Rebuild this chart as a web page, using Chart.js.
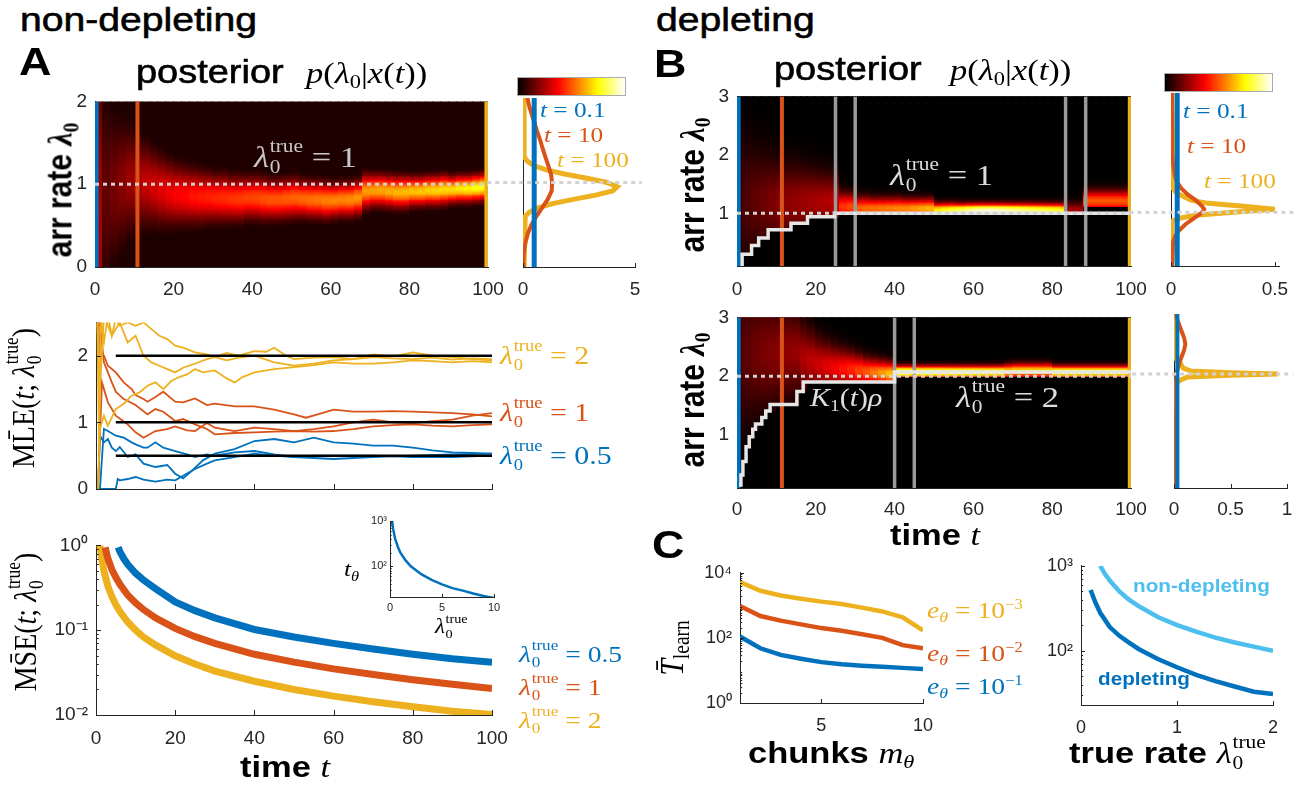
<!DOCTYPE html>
<html>
<head>
<meta charset="utf-8">
<script src="https://cdn.jsdelivr.net/npm/chart.js@4.4.1/dist/chart.umd.min.js"></script>
<style>
  body { margin: 0; background: #fff; }
  #fig { position: relative; width: 1299px; height: 786px; overflow: hidden; background: #fff; }
  #fig canvas { position: absolute; }
  .t { position: absolute; white-space: nowrap; line-height: 1; transform-origin: 0 0; transform: scaleX(1.15); font-family: "Liberation Sans", Arial, sans-serif; color: #000; }
  .v { position: absolute; white-space: nowrap; line-height: 1; transform: translate(-50%, -50%) rotate(-90deg) scaleY(1.15); font-family: "Liberation Sans", Arial, sans-serif; color: #000; }
  .s { font-family: "Liberation Serif", "Times New Roman", serif; }
  .b { font-weight: bold; }
  .k { -webkit-text-stroke: 0.6px #000; }
  .ss { display: inline-flex; flex-direction: column; font-size: .62em; line-height: 1.15; position: relative; top: -.78em; margin-left: .04em; font-style: normal; }
  .sb { font-size: .65em; position: relative; top: .3em; font-style: normal; }
  .cb { position: absolute; height: 19px; border: 1px solid #aaa; box-sizing: border-box; background: linear-gradient(90deg, #000 0%, #f00 37.5%, #ff0 75%, #fff 100%); }
</style>
</head>
<body>
<div id="fig"></div>
<script>
const fig = document.getElementById( "fig" );
const SANS = '"Liberation Sans", Arial, sans-serif';
const INK = "#262626";
const BLUE = "#0072BD", ORANGE = "#D95319", YELLOW = "#EDB120", LBLUE = "#4DBEEE";

// ---- A: posterior heatmap columns (t = 0, 2, ..., 98) ----
const colTime = [ 0, 2, 4, 6, 8, 10, 12, 14, 16, 18, 20, 22, 24, 26, 28, 30, 32, 34, 36, 38, 40, 42, 44, 46, 48,
  50, 52, 54, 56, 58, 60, 62, 64, 66, 68, 70, 72, 74, 76, 78, 80, 82, 84, 86, 88, 90, 92, 94, 96, 98 ];
const aCenter = [ 0.5, 0.9, 0.95, 1.0, 1.05, 1.02, 1.0, 0.97, 0.93, 0.9, 0.88, 0.87, 0.86, 0.85, 0.85, 0.84, 0.84, 0.83, 0.83, 0.84,
  0.84, 0.83, 0.82, 0.82, 0.83, 0.84, 0.83, 0.82, 0.82, 0.81, 0.81, 0.82, 0.82, 0.84, 0.92, 0.93, 0.93, 0.92, 0.91, 0.91,
  0.92, 0.92, 0.93, 0.93, 0.94, 0.94, 0.95, 0.95, 0.96, 0.97 ];
const aSd = [ 1.5, 0.8, 0.6, 0.5, 0.42, 0.36, 0.32, 0.29, 0.27, 0.25, 0.23, 0.22, 0.21, 0.2, 0.19, 0.18, 0.18, 0.17, 0.17, 0.16,
  0.16, 0.16, 0.15, 0.15, 0.15, 0.15, 0.14, 0.14, 0.14, 0.14, 0.13, 0.13, 0.13, 0.13, 0.13, 0.12, 0.12, 0.12, 0.12, 0.12,
  0.11, 0.11, 0.11, 0.11, 0.11, 0.1, 0.1, 0.1, 0.1, 0.1 ];
const aPeak = [ 0.25, 0.14, 0.17, 0.2, 0.23, 0.26, 0.29, 0.31, 0.33, 0.35, 0.37, 0.38, 0.4, 0.41, 0.42, 0.43, 0.44, 0.45, 0.46, 0.47,
  0.48, 0.49, 0.5, 0.5, 0.51, 0.52, 0.53, 0.54, 0.55, 0.56, 0.57, 0.57, 0.58, 0.59, 0.6, 0.61, 0.62, 0.63, 0.64, 0.65,
  0.66, 0.67, 0.68, 0.69, 0.7, 0.7, 0.72, 0.74, 0.76, 0.78 ];
const aSnapT = [ 0.3, 10.8, 99.6 ];

// A side: posterior snapshots
const aSideLamB = [ 0, 2 ], aSideB = [ 0.5, 0.5 ];
const aSideLamO = [ 0, 0.1, 0.2, 0.3, 0.4, 0.5, 0.6, 0.7, 0.8, 0.9, 1.0, 1.1, 1.2, 1.3, 1.4, 1.5, 1.6, 1.7, 1.8, 1.9, 2.0 ];
const aSideO = [ 0.02, 0.02, 0.05, 0.12, 0.22, 0.38, 0.6, 0.85, 1.1, 1.28, 1.3, 1.25, 1.13, 1.0, 0.88, 0.77, 0.64, 0.52, 0.4, 0.28, 0.2 ];
const aSideLamY = [ 0, 0.6, 0.65, 0.7, 0.75, 0.8, 0.85, 0.9, 0.95, 1.0, 1.05, 1.1, 1.15, 1.2, 1.25, 1.3, 1.35, 2.0 ];
const aSideY = [ 0.05, 0.1, 0.29, 0.67, 1.32, 2.24, 3.24, 4.0, 4.2, 3.75, 2.85, 1.85, 1.03, 0.48, 0.2, 0.07, 0.05, 0.05 ];

// ---- A: MLE trajectories ----
const mleY1t = [ 0.3, 0.8, 1.2, 2, 3, 4, 5, 6, 8, 10, 12, 14, 16, 18, 20, 22, 25, 28, 30, 33, 36, 40, 43, 45, 48, 50, 55, 60, 65, 70, 75, 80, 85, 90, 95, 100 ];
const mleY1 = [ 2.6, 0.6, 2.6, 2.2, 2.6, 2.3, 2.55, 2.45, 2.5, 2.45, 2.5, 2.4, 2.3, 2.25, 2.15, 2.12, 2.05, 2.02, 1.98, 2.04, 2.0, 2.07, 2.06, 2.12, 2.0, 1.95, 1.97, 1.98, 1.95, 2.02, 1.99, 2.05, 2.0, 1.98, 1.95, 1.93 ];
const mleY2t = [ 0.5, 1, 2, 3, 5, 7, 9, 11, 13, 15, 17, 19, 21, 23, 25, 27, 30, 33, 35, 37, 40, 45, 50, 55, 60, 65, 70, 75, 80, 85, 90, 95, 100 ];
const mleY2 = [ 0, 0.9, 1.1, 0.95, 1.2, 1.28, 1.4, 1.45, 1.55, 1.6, 1.5, 1.62, 1.68, 1.72, 1.8, 1.75, 1.78, 1.66, 1.6, 1.68, 1.75, 1.8, 1.83, 1.86, 1.9, 1.88, 1.88, 1.9, 1.93, 1.92, 1.9, 1.92, 1.9 ];
const mleY3t = [ 0.3, 1, 2, 4, 6, 8, 10, 12, 14, 16, 18, 20, 22, 25, 28, 30, 33, 36, 40, 45, 50, 55, 60, 65, 70, 75, 80, 85, 90, 95, 100 ];
const mleY3 = [ 2.6, 1.5, 2.6, 2.3, 2.5, 2.2, 2.3, 2.0, 1.9, 1.85, 1.8, 1.75, 1.82, 1.88, 1.95, 1.98, 1.93, 1.97, 2.0, 1.9, 1.85, 1.88, 1.93, 1.95, 1.98, 1.96, 1.95, 1.97, 1.94, 1.96, 1.95 ];
const mleO1t = [ 0.5, 1, 2, 3, 5, 7, 9, 10, 12, 13, 15, 17, 19, 20, 22, 25, 28, 30, 35, 40, 45, 50, 53, 56, 60, 65, 70, 75, 80, 85, 90, 95, 100 ];
const mleO1 = [ 2.6, 2.0, 2.0, 1.85, 1.75, 1.6, 1.5, 1.41, 1.35, 1.31, 1.38, 1.46, 1.36, 1.31, 1.3, 1.36, 1.26, 1.28, 1.24, 1.24, 1.19, 1.12, 1.07, 1.12, 1.19, 1.16, 1.16, 1.17, 1.16, 1.15, 1.14, 1.12, 1.09 ];
const mleO2t = [ 0.5, 1.5, 3, 5, 8, 10, 12, 15, 18, 20, 23, 25, 28, 30, 35, 40, 45, 50, 55, 60, 65, 70, 75, 80, 85, 90, 95, 100 ];
const mleO2 = [ 0, 1.6, 1.3, 1.1, 0.97, 0.85, 0.77, 0.87, 0.9, 0.94, 0.88, 0.87, 0.99, 0.92, 0.87, 0.92, 0.9, 0.87, 0.9, 0.94, 1.0, 1.04, 1.0, 0.99, 1.02, 1.04, 1.1, 1.14 ];
const mleO3t = [ 0.8, 2, 4, 5, 7, 10, 13, 15, 17, 20, 22, 25, 28, 30, 35, 40, 45, 50, 55, 60, 65, 70, 75, 80, 85, 90, 95, 100 ];
const mleO3 = [ 2.6, 1.9, 1.6, 1.46, 1.35, 1.26, 1.12, 1.2, 1.16, 1.02, 1.05, 0.97, 0.9, 0.82, 0.84, 0.85, 0.86, 0.87, 0.86, 0.87, 0.9, 0.94, 0.96, 0.97, 0.95, 0.94, 0.96, 0.97 ];
const mleB1t = [ 0.5, 1, 2, 3, 4, 5, 6, 8, 10, 12, 15, 18, 20, 22, 24, 27, 30, 35, 40, 45, 50, 55, 60, 65, 70, 75, 80, 85, 90, 95, 100 ];
const mleB1 = [ 0, 0.8, 0.7, 0.75, 0.62, 0.57, 0.63, 0.48, 0.52, 0.38, 0.33, 0.36, 0.23, 0.16, 0.26, 0.43, 0.53, 0.6, 0.72, 0.75, 0.7, 0.77, 0.7, 0.68, 0.65, 0.65, 0.62, 0.58, 0.55, 0.54, 0.53 ];
const mleB2t = [ 1, 2, 3, 5, 7, 9, 10, 12, 13, 15, 17, 20, 23, 25, 28, 30, 35, 40, 45, 50, 55, 60, 70, 80, 90, 100 ];
const mleB2 = [ 0, 0.9, 0.87, 0.8, 0.77, 0.7, 0.67, 0.62, 0.62, 0.7, 0.62, 0.57, 0.52, 0.48, 0.52, 0.5, 0.55, 0.57, 0.52, 0.48, 0.5, 0.5, 0.5, 0.48, 0.48, 0.5 ];
const mleB3t = [ 0.5, 5, 5.5, 6, 8, 10, 12, 15, 18, 20, 22, 25, 28, 30, 35, 40, 45, 50, 60, 70, 80, 90, 100 ];
const mleB3 = [ 0, 0, 0.15, 0.13, 0.15, 0.18, 0.14, 0.11, 0.14, 0.13, 0.2, 0.3, 0.38, 0.43, 0.48, 0.53, 0.5, 0.48, 0.45, 0.48, 0.5, 0.52, 0.53 ];
const trueRates = [ 0.5, 1, 2 ];

// ---- A: MSE ----
const mseYt = [ 1, 1.5, 2, 3, 4, 5, 6, 8, 10, 12, 15, 20, 25, 30, 40, 50, 60, 70, 80, 90, 100 ];
const mseY = [ 1.0, 0.67, 0.5, 0.33, 0.25, 0.2, 0.167, 0.125, 0.1, 0.083, 0.067, 0.05, 0.04, 0.033, 0.025, 0.02, 0.0167, 0.0143, 0.0125, 0.0111, 0.0101 ];
const mseOt = [ 2.3, 3, 4, 5, 6, 8, 10, 12, 15, 20, 25, 30, 40, 50, 60, 70, 80, 90, 100 ];
const mseO = [ 0.95, 0.7, 0.52, 0.42, 0.35, 0.26, 0.21, 0.175, 0.14, 0.105, 0.084, 0.07, 0.052, 0.042, 0.035, 0.03, 0.026, 0.023, 0.0205 ];
const mseBt = [ 5.6, 6, 7, 8, 10, 12, 15, 20, 25, 30, 40, 50, 60, 70, 80, 90, 100 ];
const mseB = [ 0.95, 0.85, 0.7, 0.6, 0.47, 0.39, 0.31, 0.215, 0.17, 0.14, 0.102, 0.083, 0.07, 0.06, 0.052, 0.046, 0.042 ];
const insetLam = [ 0.2, 0.3, 0.5, 0.75, 1, 1.5, 2, 3, 4, 5, 6, 7, 8, 9, 10 ];
const insetT = [ 1000, 670, 400, 270, 200, 135, 100, 67, 50, 40, 33, 29, 25, 22, 20 ];

// ---- B: depleting, lambda = 1 ----
const bLow = [ 0.1, 0.3, 0.45, 0.58, 0.72, 0.72, 0.72, 0.83, 0.83, 0.94, 0.94, 0.94, 0.94,
  1, 1, 1, 1, 1, 1, 1, 1, 1, 1, 1, 1, 1, 1, 1, 1, 1, 1, 1, 1, 1, 1, 1, 1, 1, 1, 1, 1, 1, 1, 1,
  1.12, 1.12, 1.12, 1.12, 1.12, 1.12 ];
const bCenter = [ 1.2, 1.2, 1.2, 1.2, 1.2, 1.2, 1.2, 1.2, 1.2, 1.2, 1.2, 1.2, 1.2, 1.12, 1.12,
  1.09, 1.09, 1.09, 1.09, 1.09, 1.09, 1.09, 1.09, 1.09, 1.09,
  1.06, 1.06, 1.06, 1.06, 1.06, 1.06, 1.06, 1.06, 1.06, 1.06, 1.06, 1.06, 1.06, 1.06, 1.06, 1.06, 1.06,
  1.05, 1.05, 1.22, 1.22, 1.22, 1.22, 1.22, 1.22 ];
const bSd = [ 0.8, 0.7, 0.6, 0.55, 0.5, 0.45, 0.42, 0.4, 0.38, 0.36, 0.34, 0.32, 0.3, 0.16, 0.15,
  0.13, 0.13, 0.12, 0.12, 0.12, 0.12, 0.11, 0.11, 0.11, 0.11,
  0.08, 0.08, 0.08, 0.075, 0.075, 0.075, 0.075, 0.075, 0.075, 0.075, 0.075, 0.075, 0.075, 0.075, 0.075, 0.075, 0.075,
  0.1, 0.1, 0.12, 0.12, 0.12, 0.12, 0.12, 0.12 ];
const bPeak = [ 0.1, 0.12, 0.14, 0.16, 0.18, 0.2, 0.21, 0.22, 0.23, 0.24, 0.25, 0.26, 0.28, 0.45, 0.48,
  0.52, 0.53, 0.54, 0.55, 0.56, 0.57, 0.58, 0.6, 0.62, 0.64,
  0.74, 0.78, 0.82, 0.86, 0.9, 0.94, 0.96, 0.96, 0.94, 0.92, 0.9, 0.88, 0.86, 0.84, 0.82, 0.8, 0.78,
  0.25, 0.25, 0.5, 0.5, 0.5, 0.5, 0.5, 0.5 ];
const bStepT = [ 1.3, 1.3, 3.7, 5.5, 7.9, 13.7, 17.9, 24.7, 100 ];
const bStep = [ 0.1, 0.3, 0.45, 0.58, 0.72, 0.83, 0.94, 1.0, 1.0 ];
const bSnapT = [ 0.3, 11.4, 99.7 ];
const bGrayT = [ 25, 30, 83.4, 88.5 ];
const bSideLamB = [ 0.1, 3 ], bSideB = [ 0.03, 0.03 ];
const bSideLamO = [ 0.1, 0.5, 0.6, 0.7, 0.8, 0.9, 1.0, 1.05, 1.1, 1.2, 1.3, 1.4, 1.5, 1.6, 1.8, 2.0, 3.0 ];
const bSideO = [ 0.005, 0.01, 0.02, 0.04, 0.07, 0.11, 0.15, 0.16, 0.15, 0.12, 0.08, 0.05, 0.03, 0.02, 0.01, 0.005, 0.005 ];
const bSideLamY = [ 0.1, 0.85, 0.9, 0.95, 1.0, 1.05, 1.1, 1.15, 1.2, 1.25, 1.3, 1.35, 1.4, 3.0 ];
const bSideY = [ 0.005, 0.005, 0.04, 0.12, 0.3, 0.5, 0.35, 0.18, 0.1, 0.07, 0.04, 0.02, 0.01, 0.005 ];

// ---- B: depleting, lambda = 2 ----
const cLow = [ 0.15, 0.8, 1.1, 1.3, 1.41, 1.52, 1.52, 1.52, 1.74,
  1.9, 1.9, 1.9, 1.9, 1.9, 1.9, 1.9, 1.9, 1.9, 1.9, 1.9,
  2, 2, 2, 2, 2, 2, 2, 2, 2, 2, 2, 2, 2, 2, 2, 2, 2, 2, 2, 2, 2, 2, 2, 2, 2, 2, 2, 2, 2, 2 ];
const cCenter = [ 2.4, 2.4, 2.4, 2.4, 2.4, 2.4, 2.4, 2.4,
  2.3, 2.25, 2.2, 2.17, 2.15, 2.13, 2.12, 2.1, 2.08, 2.07, 2.06, 2.05,
  2.08, 2.08, 2.08, 2.08, 2.08, 2.08, 2.08, 2.08, 2.08, 2.08, 2.08, 2.08, 2.08, 2.08, 2.09,
  2.1, 2.1, 2.1, 2.1, 2.1, 2.08, 2.08, 2.08, 2.08, 2.08, 2.08, 2.08, 2.08, 2.08, 2.08 ];
const cSd = [ 0.9, 0.8, 0.7, 0.65, 0.6, 0.55, 0.5, 0.45,
  0.4, 0.35, 0.3, 0.27, 0.24, 0.22, 0.2, 0.18, 0.16, 0.15, 0.14, 0.13,
  0.07, 0.07, 0.07, 0.07, 0.07, 0.07, 0.07, 0.07, 0.07, 0.07, 0.07, 0.07, 0.07, 0.07, 0.08,
  0.08, 0.08, 0.08, 0.08, 0.08, 0.07, 0.07, 0.07, 0.07, 0.07, 0.07, 0.07, 0.07, 0.07, 0.07 ];
const cPeak = [ 0.12, 0.14, 0.16, 0.18, 0.19, 0.2, 0.21, 0.22,
  0.25, 0.28, 0.3, 0.33, 0.36, 0.4, 0.43, 0.47, 0.5, 0.55, 0.6, 0.66,
  0.9, 0.9, 0.89, 0.88, 0.88, 0.88, 0.87, 0.87, 0.86, 0.86, 0.86, 0.85, 0.85, 0.85, 0.7,
  0.7, 0.7, 0.7, 0.7, 0.7, 0.84, 0.84, 0.84, 0.84, 0.84, 0.84, 0.84, 0.84, 0.84, 0.84 ];
const cStepT = [ 0.5, 1, 1.5, 2.3, 3.1, 4, 4.7, 6.3, 7.3, 8.4, 15.2, 16.8, 40, 100 ];
const cStep = [ 0.15, 0.32, 0.55, 0.8, 0.97, 1.1, 1.19, 1.3, 1.41, 1.52, 1.74, 1.9, 2.07, 2.07 ];
const cGrayT = [ 40, 45 ];
const cSideLamB = [ 0.1, 3 ], cSideB = [ 0.03, 0.03 ];
const cSideLamO = [ 0.1, 1.5, 1.9, 2.0, 2.2, 2.4, 2.5, 2.6, 2.8, 2.9, 3.0 ];
const cSideO = [ 0.01, 0.02, 0.02, 0.02, 0.05, 0.09, 0.1, 0.09, 0.05, 0.03, 0.02 ];
const cSideLamY = [ 0.1, 1.85, 1.9, 1.95, 1.98, 2.0, 2.02, 2.05, 2.1, 2.2, 2.25, 2.3, 3.0 ];
const cSideY = [ 0.01, 0.01, 0.06, 0.12, 0.5, 0.92, 0.5, 0.15, 0.08, 0.05, 0.02, 0.01, 0.01 ];

// ---- C: learning time ----
const chunks = [ 1, 2, 3, 4, 5, 6, 7, 8, 9, 10 ];
const tLearnE3 = [ 5200, 2800, 2000, 1600, 1300, 1100, 850, 650, 430, 170 ];
const tLearnE2 = [ 950, 470, 340, 260, 200, 165, 130, 100, 60, 48 ];
const tLearnE1 = [ 110, 48, 30, 23, 18, 15.5, 14, 13, 12, 11 ];
const rateNonDep = [ 0.2, 0.25, 0.3, 0.4, 0.5, 0.6, 0.7, 0.8, 1.0, 1.2, 1.4, 1.6, 1.8, 2.0 ];
const tNonDep = [ 1000, 800, 670, 500, 400, 335, 290, 250, 200, 168, 143, 125, 112, 100 ];
const rateDep = [ 0.1, 0.15, 0.2, 0.3, 0.4, 0.5, 0.6, 0.8, 1.0, 1.2, 1.4, 1.6, 1.8, 2.0 ];
const tDep = [ 520, 370, 280, 190, 150, 125, 105, 80, 64, 52, 44, 38, 33, 31 ];

// ---------------- helpers ----------------
const M = { l: 60, r: 34, t: 16, b: 40 };

function place ( box ) {
  const [ x0, y0, x1, y1 ] = box;
  const w = x1 - x0 + M.l + M.r, h = y1 - y0 + M.t + M.b;
  const c = document.createElement( "canvas" );
  c.width = w; c.height = h;
  c.style.cssText = `left:${x0 - M.l}px;top:${y0 - M.t}px;width:${w}px;height:${h}px`;
  fig.appendChild( c );
  return c;
}

const SUP = { "-": "\u207B", "0": "\u2070", "1": "\u00B9", "2": "\u00B2", "3": "\u00B3", "4": "\u2074" };
const pow10 = v => "10" + String( Math.round( Math.log10( v ) ) ).split( "" ).map( c => SUP[ c ] ).join( "" );

// minor ticks of a log axis (2..9 in every decade)
function logMinor ( lo, hi ) {
  const out = [];
  for ( let d = Math.floor( Math.log10( lo ) ); d < Math.log10( hi ); d++ )
    for ( let k = 2; k < 10; k++ ) { const v = k * 10 ** d; if ( v > lo && v < hi ) out.push( v ); }
  return out;
}

function axis ( a, horiz ) {
  return {
    type: a.log ? "logarithmic" : "linear",
    min: a.min, max: a.max,
    grid: { display: false, drawTicks: false },
    border: { display: a.border !== false, color: INK, width: 1 },
    ticks: {
      display: a.labels !== false,
      padding: a.pad ?? 8,
      color: INK,
      font: { family: SANS, size: a.size || 19 },
      maxRotation: 0, minRotation: 0, autoSkip: false,
      callback: v => a.log ? pow10( v ) : String( v )
    },
    afterBuildTicks: s => { s.ticks = ( a.ticks || [] ).map( v => ( { value: v } ) ); },
    afterFit: s => {
      if ( horiz ) s.height = M.b; else s.width = M.l;
      s.$tickIn = a.tickIn || 0;
      s.$minor = a.log && a.tickIn ? logMinor( a.min, a.max ) : [];
    }
  };
}

// inward tick marks, like the original axes
const inTicks = {
  id: "inTicks",
  afterDatasetsDraw ( chart ) {
    const { ctx, chartArea: a, scales } = chart;
    ctx.save();
    ctx.strokeStyle = INK; ctx.lineWidth = 1;
    for ( const s of Object.values( scales ) ) {
      const len = s.$tickIn;
      if ( !len ) continue;
      const marks = s.ticks.map( t => [ t.value, len ] ).concat( s.$minor.map( v => [ v, len * 0.55 ] ) );
      for ( const [ val, l ] of marks ) {
        const p = Math.round( s.getPixelForValue( val ) ) + 0.5;
        ctx.beginPath();
        if ( s.isHorizontal() ) { ctx.moveTo( p, a.bottom ); ctx.lineTo( p, a.bottom - l ); }
        else { ctx.moveTo( a.left, p ); ctx.lineTo( a.left + l, p ); }
        ctx.stroke();
      }
    }
    ctx.restore();
  }
};

function hot ( v ) {
  const c = x => Math.round( 255 * Math.min( 1, Math.max( 0, x ) ) );
  return `rgb(${c( v / 0.375 )},${c( ( v - 0.375 ) / 0.375 )},${c( ( v - 0.75 ) / 0.25 )})`;
}

// posterior image: each column is a (truncated) bump, coloured with the "hot" map
function heat ( h ) {
  return {
    id: "heat",
    beforeDatasetsDraw ( chart ) {
      const { ctx, chartArea: a, scales: { x, y } } = chart;
      ctx.save();
      ctx.beginPath(); ctx.rect( a.left, a.top, a.width, a.height ); ctx.clip();
      for ( let i = 0; i < h.time.length; i++ ) {
        const t1 = i + 1 < h.time.length ? h.time[ i + 1 ] : h.end;
        const px0 = Math.floor( x.getPixelForValue( h.time[ i ] ) );
        const px1 = Math.ceil( x.getPixelForValue( t1 ) );
        for ( let lam = h.lo; lam < h.hi; lam += h.dy ) {
          const m = lam + h.dy / 2;
          const z = ( m - h.center[ i ] ) / h.sd[ i ];
          const low = h.low ? h.low[ i ] : -1;
          const v = m < low ? h.floor : Math.max( h.floor, h.peak[ i ] * Math.exp( -0.5 * z * z ) );
          const py0 = Math.floor( y.getPixelForValue( lam + h.dy ) ), py1 = Math.ceil( y.getPixelForValue( lam ) );
          ctx.fillStyle = hot( v );
          ctx.fillRect( px0, py0, px1 - px0, py1 - py0 );
        }
      }
      ctx.restore();
    }
  };
}

const pts = ( xs, ys ) => xs.map( ( x, i ) => ( { x, y: ys[ i ] } ) );
function line ( xs, ys, color, width, extra ) {
  return Object.assign( { data: pts( xs, ys ), showLine: true, borderColor: color, borderWidth: width, pointRadius: 0, fill: false, borderCapStyle: "butt" }, extra || {} );
}
const dotted = ( xs, ys ) => line( xs, ys, "#d2d2d2", 3, { borderDash: [ 4, 4 ], clip: false, order: -1 } );

function plot ( box, o ) {
  const plugins = [];
  if ( o.heat ) plugins.push( o.heat );
  plugins.push( inTicks );
  return new Chart( place( box ), {
    type: "scatter",
    data: { datasets: o.sets },
    options: {
      responsive: false, animation: false, devicePixelRatio: 1,
      layout: { padding: { left: 0, right: M.r, top: M.t, bottom: 0 } },
      plugins: { legend: { display: false }, tooltip: { enabled: false } },
      elements: { line: { tension: 0 } },
      scales: { x: axis( o.x, true ), y: axis( o.y, false ) }
    },
    plugins
  } );
}

function label ( html, x, base, size, cls, color ) {
  const d = document.createElement( "div" );
  d.className = "t " + ( cls || "" );
  d.innerHTML = html;
  d.style.left = x + "px";
  d.style.top = ( base - 0.85 * size ) + "px";
  d.style.fontSize = size + "px";
  if ( color ) d.style.color = color;
  fig.appendChild( d );
}
function vlabel ( html, cx, cy, size, cls ) {
  const d = document.createElement( "div" );
  d.className = "v " + ( cls || "" );
  d.innerHTML = html;
  d.style.left = cx + "px";
  d.style.top = cy + "px";
  d.style.fontSize = size + "px";
  fig.appendChild( d );
}
function colorbar ( x, y, w ) {
  const d = document.createElement( "div" );
  d.className = "cb";
  d.style.left = x + "px"; d.style.top = y + "px"; d.style.width = w + "px";
  fig.appendChild( d );
}

const T0 = '<i>λ</i><span class="ss"><span>true</span><span>0</span></span>';
const L0 = '<i>λ</i><span class="sb">0</span>';
const POST = `<i>p</i>(${L0}|<i>x</i>(<i>t</i>))`;

// ---------------- panel A ----------------
plot( [ 95, 98, 488, 267 ], {
  x: { min: 0, max: 100, ticks: [ 0, 20, 40, 60, 80, 100 ], pad: 11 },
  y: { min: 0, max: 2, ticks: [ 0, 1, 2 ], pad: 8 },
  heat: heat( { time: colTime, center: aCenter, sd: aSd, peak: aPeak, low: null, lo: 0, hi: 2, dy: 0.01, end: 100, floor: 0.045 } ),
  sets: [
    dotted( [ 0, 100 ], [ 1, 1 ] ),
    line( [ aSnapT[ 0 ], aSnapT[ 0 ] ], [ 0, 2 ], BLUE, 5 ),
    line( [ aSnapT[ 1 ], aSnapT[ 1 ] ], [ 0, 2 ], ORANGE, 4 ),
    line( [ aSnapT[ 2 ], aSnapT[ 2 ] ], [ 0, 2 ], YELLOW, 4 )
  ]
} );
plot( [ 523, 98, 635, 267 ], {
  x: { min: 0, max: 5, ticks: [ 0, 5 ], pad: 11, tickIn: 4 },
  y: { min: 0, max: 2, ticks: [], labels: false },
  sets: [
    dotted( [ -1.6, 5.3 ], [ 1, 1 ] ),
    line( aSideB, aSideLamB, BLUE, 5 ),
    line( aSideO, aSideLamO, ORANGE, 4 ),
    line( aSideY, aSideLamY, YELLOW, 5 )
  ]
} );

const black = r => line( [ 5, 100 ], [ r, r ], "#000", 2.5, { order: -1 } );
plot( [ 96, 319, 492, 489 ], {
  x: { min: 0, max: 100, ticks: [ 0, 20, 40, 60, 80, 100 ], labels: false, tickIn: 5 },
  y: { min: 0, max: 2.5, ticks: [ 0, 1, 2 ], pad: 8, tickIn: 5 },
  sets: [
    black( trueRates[ 2 ] ), black( trueRates[ 1 ] ), black( trueRates[ 0 ] ),
    line( mleY1t, mleY1, YELLOW, 1.8 ), line( mleY2t, mleY2, YELLOW, 1.8 ), line( mleY3t, mleY3, YELLOW, 1.8 ),
    line( mleO1t, mleO1, ORANGE, 1.8 ), line( mleO2t, mleO2, ORANGE, 1.8 ), line( mleO3t, mleO3, ORANGE, 1.8 ),
    line( mleB1t, mleB1, BLUE, 1.8 ), line( mleB2t, mleB2, BLUE, 1.8 ), line( mleB3t, mleB3, BLUE, 1.8 )
  ]
} );

plot( [ 96, 542, 492, 715 ], {
  x: { min: 0, max: 100, ticks: [ 0, 20, 40, 60, 80, 100 ], pad: 12, tickIn: 5 },
  y: { log: true, min: 0.01, max: 1, ticks: [ 0.01, 0.1, 1 ], pad: 8, tickIn: 5 },
  sets: [
    line( mseBt, mseB, BLUE, 7 ),
    line( mseOt, mseO, ORANGE, 7 ),
    line( mseYt, mseY, YELLOW, 7 )
  ]
} );
plot( [ 390, 521, 494, 597 ], {
  x: { min: 0, max: 10, ticks: [ 0, 5, 10 ], pad: 4, size: 11, tickIn: 3 },
  y: { log: true, min: 21, max: 1000, ticks: [ 100, 1000 ], pad: 3, size: 11, tickIn: 3 },
  sets: [ line( insetLam, insetT, BLUE, 2.5 ) ]
} );

// ---------------- panel B ----------------
const gray = t => line( [ t, t ], [ 0.1, 3 ], "#9a9a9a", 3.5 );
plot( [ 737, 93, 1131, 266 ], {
  x: { min: 0, max: 100, ticks: [ 0, 20, 40, 60, 80, 100 ], pad: 12 },
  y: { min: 0.1, max: 3, ticks: [ 1, 2, 3 ], pad: 8 },
  heat: heat( { time: colTime, center: bCenter, sd: bSd, peak: bPeak, low: bLow, lo: 0.1, hi: 3, dy: 0.01, end: 100, floor: 0 } ),
  sets: [
    dotted( [ 0, 100 ], [ 1, 1 ] ),
    line( bStepT, bStep, "#e6e6e6", 3.5, { stepped: true } ),
    ...bGrayT.map( gray ),
    line( [ bSnapT[ 0 ], bSnapT[ 0 ] ], [ 0.1, 3 ], BLUE, 5 ),
    line( [ bSnapT[ 1 ], bSnapT[ 1 ] ], [ 0.1, 3 ], ORANGE, 4 ),
    line( [ bSnapT[ 2 ], bSnapT[ 2 ] ], [ 0.1, 3 ], YELLOW, 4 )
  ]
} );
plot( [ 1171, 93, 1279, 266 ], {
  x: { min: 0, max: 0.52, ticks: [ 0, 0.5 ], pad: 12, tickIn: 4 },
  y: { min: 0.1, max: 3, ticks: [], labels: false },
  sets: [
    dotted( [ -0.2, 0.6 ], [ 1, 1 ] ),
    line( bSideB, bSideLamB, BLUE, 5 ),
    line( bSideO, bSideLamO, ORANGE, 4 ),
    line( bSideY, bSideLamY, YELLOW, 5 )
  ]
} );

plot( [ 737, 314, 1131, 488 ], {
  x: { min: 0, max: 100, ticks: [ 0, 20, 40, 60, 80, 100 ], pad: 10 },
  y: { min: 0.1, max: 3, ticks: [ 1, 2, 3 ], pad: 8 },
  heat: heat( { time: colTime, center: cCenter, sd: cSd, peak: cPeak, low: cLow, lo: 0.1, hi: 3, dy: 0.01, end: 100, floor: 0 } ),
  sets: [
    dotted( [ 0, 100 ], [ 2, 2 ] ),
    line( cStepT, cStep, "#e6e6e6", 3.5, { stepped: true } ),
    ...cGrayT.map( gray ),
    line( [ bSnapT[ 0 ], bSnapT[ 0 ] ], [ 0.1, 3 ], BLUE, 5 ),
    line( [ bSnapT[ 1 ], bSnapT[ 1 ] ], [ 0.1, 3 ], ORANGE, 4 ),
    line( [ bSnapT[ 2 ], bSnapT[ 2 ] ], [ 0.1, 3 ], YELLOW, 4 )
  ]
} );
plot( [ 1174, 314, 1287, 488 ], {
  x: { min: 0, max: 1, ticks: [ 0, 0.5, 1 ], pad: 10, tickIn: 4 },
  y: { min: 0.1, max: 3, ticks: [], labels: false },
  sets: [
    dotted( [ -0.37, 1.05 ], [ 2, 2 ] ),
    line( cSideB, cSideLamB, BLUE, 4 ),
    line( cSideO, cSideLamO, ORANGE, 4 ),
    line( cSideY, cSideLamY, YELLOW, 5 )
  ]
} );

// ---------------- panel C ----------------
plot( [ 740, 570, 923, 703 ], {
  x: { min: 1, max: 10, ticks: [ 5, 10 ], pad: 12, size: 18, tickIn: 4 },
  y: { log: true, min: 1, max: 10000, ticks: [ 1, 100, 10000 ], pad: 8, size: 18, tickIn: 4 },
  sets: [
    line( chunks, tLearnE3, YELLOW, 4.5 ),
    line( chunks, tLearnE2, ORANGE, 4.5 ),
    line( chunks, tLearnE1, BLUE, 4.5 )
  ]
} );
plot( [ 1081, 563, 1273, 705 ], {
  x: { min: 0, max: 2, ticks: [ 0, 1, 2 ], pad: 12, size: 18, tickIn: 4 },
  y: { log: true, min: 23, max: 1000, ticks: [ 100, 1000 ], pad: 8, size: 18, tickIn: 4 },
  sets: [
    line( rateNonDep, tNonDep, LBLUE, 4.5 ),
    line( rateDep, tDep, BLUE, 4.5 )
  ]
} );

// ---------------- text ----------------
colorbar( 517, 77, 109 );
colorbar( 1164, 73, 109 );

label( "non-depleting", 20, 31, 34, "k" );
label( "A", 19, 75, 39, "b" );
label( "posterior", 136, 83, 33, "k" );
label( POST, 306, 83, 30, "s" );
vlabel( `arr rate <span class="s">${L0}</span>`, 60, 190, 30, "b" );
label( `${T0} = 1`, 254, 167, 30, "s", "#c8c8c8" );
label( "<i>t</i> = 0.1", 540, 118, 22, "s", BLUE );
label( "<i>t</i> = 10", 544, 143, 22, "s", ORANGE );
label( "<i>t</i> = 100", 557, 168, 22, "s", YELLOW );

vlabel( `ML\u0304E(<i>t</i>; ${T0})`, 35, 398, 28, "s" );
label( `${T0} = 2`, 500, 365, 26, "s", YELLOW );
label( `${T0} = 1`, 500, 422, 26, "s", ORANGE );
label( `${T0} = 0.5`, 500, 465, 26, "s", BLUE );

vlabel( `MS\u0304E(<i>t</i>; ${T0})`, 37, 622, 28, "s" );
label( `${T0} = 0.5`, 519, 662, 24, "s", BLUE );
label( `${T0} = 1`, 519, 695, 24, "s", ORANGE );
label( `${T0} = 2`, 519, 728, 24, "s", YELLOW );
label( 'time <span class="s" style="font-weight:normal"><i>t</i></span>', 240, 777, 30, "b" );
label( '<i>t</i><span class="sb"><i>θ</i></span>', 344, 577, 22, "s" );
label( T0, 435, 633, 20, "s" );

label( "depleting", 656, 31, 34, "k" );
label( "B", 654, 77, 39, "b" );
label( "posterior", 774, 80, 33, "k" );
label( POST, 950, 80, 30, "s" );
vlabel( `arr rate <span class="s">${L0}</span>`, 692, 185, 30, "b" );
vlabel( `arr rate <span class="s">${L0}</span>`, 692, 400, 30, "b" );
label( `${T0} = 1`, 890, 185, 30, "s", "#dddddd" );
label( "<i>t</i> = 0.1", 1183, 119, 22, "s", BLUE );
label( "<i>t</i> = 10", 1187, 154, 22, "s", ORANGE );
label( "<i>t</i> = 100", 1204, 189, 22, "s", YELLOW );
label( '<i>K</i><span class="sb">1</span>(<i>t</i>)<i>ρ</i>', 810, 407, 26, "s", "#dddddd" );
label( `${T0} = 2`, 956, 407, 30, "s", "#dddddd" );
label( 'time <span class="s" style="font-weight:normal"><i>t</i></span>', 890, 545, 30, "b" );

label( "C", 652, 558, 39, "b" );
vlabel( '<i>T\u0304</i><span class="sb">learn</span>', 671, 648, 30, "s" );
label( '<i>e</i><span class="sb"><i>θ</i></span> = 10<sup style="font-size:.6em">−3</sup>', 927, 617, 24, "s", YELLOW );
label( '<i>e</i><span class="sb"><i>θ</i></span> = 10<sup style="font-size:.6em">−2</sup>', 927, 660, 24, "s", ORANGE );
label( '<i>e</i><span class="sb"><i>θ</i></span> = 10<sup style="font-size:.6em">−1</sup>', 927, 693, 24, "s", BLUE );
label( 'chunks <span class="s" style="font-weight:normal"><i>m</i><span class="sb"><i>θ</i></span></span>', 748, 763, 30, "b" );
label( "non-depleting", 1133, 592, 18, "b", LBLUE );
label( "depleting", 1098, 685, 18, "b", BLUE );
label( `true rate <span class="s" style="font-weight:normal">${T0}</span>`, 1069, 763, 30, "b" );
</script>
</body>
</html>
